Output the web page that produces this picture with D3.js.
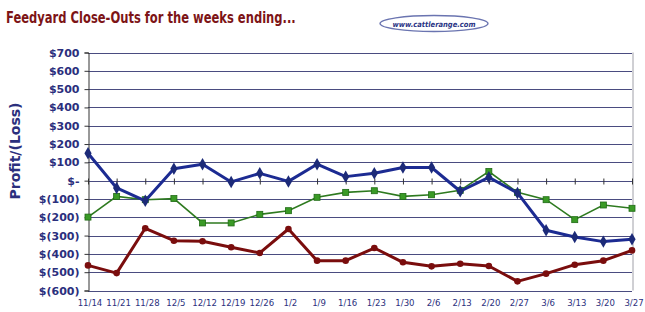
<!DOCTYPE html>
<html>
<head>
<meta charset="utf-8">
<script src="https://cdn.jsdelivr.net/npm/d3@7"></script>
<style>
body { margin: 0; background: #fff; }
svg { display: block; }
</style>
</head>
<body>
<svg id="chart" width="645" height="312"></svg>
<script>
const weeks = ["11/14","11/21","11/28","12/5","12/12","12/19","12/26","1/2","1/9","1/16",
  "1/23","1/30","2/6","2/13","2/20","2/27","3/6","3/13","3/20","3/27"];
const blueSeries = [150,-40,-110,65,90,-7,40,-4,90,22,40,72,72,-58,18,-67,-271,-308,-333,-320];
const greenSeries = [-199,-86,-104,-98,-231,-231,-184,-164,-91,-64,-55,-86,-77,-53,50,-64,-104,-213,-133,-151];
const redSeries = [-463,-505,-260,-328,-331,-364,-395,-264,-437,-437,-368,-446,-468,-454,-466,-550,-508,-459,-437,-381];
const yTicks = [700,600,500,400,300,200,100,0,-100,-200,-300,-400,-500,-600];

const svg = d3.select("#chart");
const plotLeft = 88, plotRight = 632, plotTop = 52.5, plotBottom = 290.5;

let x = d3.scalePoint().domain(weeks).range([plotLeft, plotRight]);
let y = d3.scaleLinear().domain([-600,700]).range([plotBottom, plotTop]);

const navy = "#2b2f7d";
const fmt = v => v == 0 ? "$-" : (v < 0 ? "$(" + (-v) + ")" : "$" + v);

// title, squeezed horizontally to fit left of the logo
let title = svg.append("text")
  .attr("x", 0).attr("y", 0)
  .attr("font-family", "DejaVu Sans, Verdana, sans-serif")
  .attr("font-weight", "bold").attr("font-size", 16)
  .attr("fill", "#7d1416")
  .text("Feedyard Close-Outs for the weeks ending...");
let sx = Math.min(1, 290 / title.node().getComputedTextLength());
title.attr("transform", "translate(6,23) scale(" + sx + ",1)");

// logo
svg.append("ellipse")
  .attr("cx", 434).attr("cy", 23.5).attr("rx", 54).attr("ry", 8)
  .attr("fill", "#fff").attr("stroke", "#6a74b0").attr("stroke-width", 1.3);
svg.append("text")
  .attr("x", 434).attr("y", 26.5).attr("text-anchor", "middle")
  .attr("font-family", "DejaVu Sans Condensed, Liberation Sans Narrow, sans-serif")
  .attr("font-weight", "bold").attr("font-style", "italic").attr("font-size", 7.5)
  .attr("fill", "#2b3585")
  .text("www.cattlerange.com");

// gridlines
svg.append("g").selectAll("line").data(yTicks)
  .enter().append("line")
  .attr("x1", plotLeft).attr("x2", plotRight)
  .attr("y1", d => Math.round(y(d)) + 0.5).attr("y2", d => Math.round(y(d)) + 0.5)
  .attr("stroke", "#4a4c80").attr("stroke-width", 1);

// right border
svg.append("line")
  .attr("x1", plotRight + 1).attr("x2", plotRight + 1).attr("y1", plotTop).attr("y2", plotBottom)
  .attr("stroke", "#a0a0a8");

// y axis
let yAxis = svg.append("g")
  .attr("transform", "translate(" + (plotLeft + 0.5) + ",0)")
  .call(d3.axisLeft(y).tickValues(yTicks).tickFormat(fmt).tickSize(4).tickPadding(5));
yAxis.select(".domain").attr("stroke", "#333");
yAxis.selectAll(".tick line").attr("stroke", "#333");
yAxis.selectAll("text")
  .attr("font-family", "DejaVu Sans, Verdana, sans-serif")
  .attr("font-weight", "bold").attr("font-size", 11)
  .attr("fill", navy);

// category ticks on zero line
let xAxis = svg.append("g")
  .attr("transform", "translate(0," + (Math.round(y(0)) + 0.5) + ")")
  .call(d3.axisBottom(x).tickSize(3).tickFormat(""));
xAxis.select(".domain").remove();
xAxis.selectAll(".tick line").attr("y1", -3).attr("stroke", "#333");

// category labels at bottom
svg.append("g").selectAll("text").data(weeks)
  .enter().append("text")
  .attr("x", d => x(d) + 2).attr("y", 306)
  .attr("text-anchor", "middle")
  .attr("font-family", "DejaVu Sans Condensed, DejaVu Sans, sans-serif")
  .attr("font-size", 9.5)
  .attr("fill", navy)
  .text(d => d);

// y axis title
svg.append("text")
  .attr("transform", "translate(20,151) rotate(-90)")
  .attr("text-anchor", "middle")
  .attr("font-family", "DejaVu Sans, Verdana, sans-serif")
  .attr("font-weight", "bold").attr("font-size", 14)
  .attr("fill", navy)
  .text("Profit/(Loss)");

let line = d3.line().x((d, i) => x(weeks[i])).y(d => y(d));

// red
svg.append("path").datum(redSeries)
  .attr("d", line).attr("fill", "none")
  .attr("stroke", "#7a0d0d").attr("stroke-width", 3).attr("stroke-linejoin", "round");
svg.append("g").selectAll("circle").data(redSeries)
  .enter().append("circle")
  .attr("cx", (d, i) => x(weeks[i])).attr("cy", d => y(d)).attr("r", 3.3)
  .attr("fill", "#7a0d0d");

// green
svg.append("path").datum(greenSeries)
  .attr("d", line).attr("fill", "none")
  .attr("stroke", "#2e7a1f").attr("stroke-width", 1.6);
svg.append("g").selectAll("rect").data(greenSeries)
  .enter().append("rect")
  .attr("x", (d, i) => x(weeks[i]) - 3).attr("y", d => y(d) - 3)
  .attr("width", 6).attr("height", 6)
  .attr("fill", "#3a9a26").attr("stroke", "#1f6a14").attr("stroke-width", 0.8);

// blue
svg.append("g").append("path").datum(blueSeries)
  .attr("d", line).attr("fill", "none")
  .attr("stroke", "#1c2b92").attr("stroke-width", 3).attr("stroke-linejoin", "round");
svg.append("g").selectAll("path").data(blueSeries)
  .enter().append("path")
  .attr("d", d3.symbol(d3.symbolDiamond, 45))
  .attr("transform", (d, i) => "translate(" + x(weeks[i]) + "," + y(d) + ")")
  .attr("fill", "#1c2a78");
</script>
</body>
</html>
